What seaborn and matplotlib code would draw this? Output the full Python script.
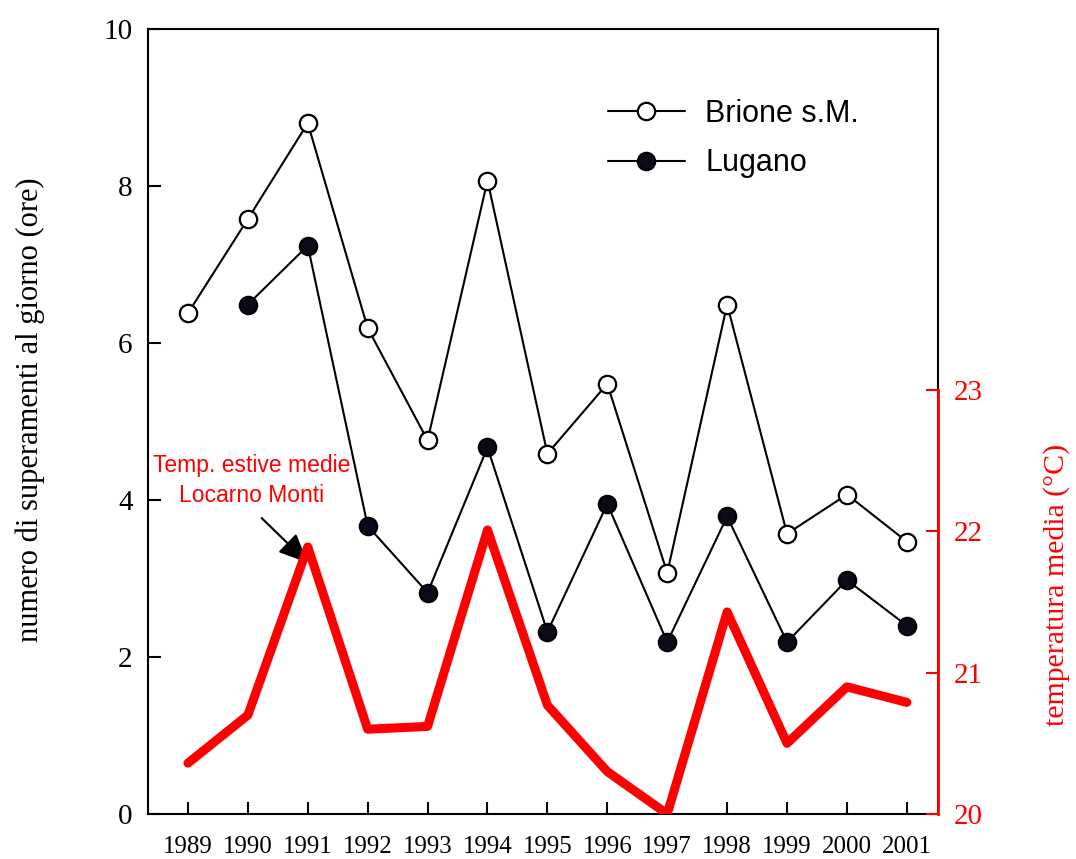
import matplotlib
matplotlib.use("Agg")
import matplotlib.pyplot as plt
import seaborn as sns
import pandas as pd
from matplotlib.lines import Line2D

years = list(range(1989, 2002))
brione = [6.38, 7.58, 8.80, 6.19, 4.76, 8.07, 4.59, 5.48, 3.07, 6.49, 3.57, 4.07, 3.47]
lugano_years = list(range(1990, 2002))
lugano = [6.49, 7.24, 3.67, 2.82, 4.67, 2.32, 3.95, 2.19, 3.79, 2.19, 2.98, 2.40]
temp = [20.36, 20.70, 21.89, 20.60, 20.62, 22.01, 20.77, 20.30, 20.00, 21.43, 20.50, 20.90, 20.79]

yticks_left = [0, 2, 4, 6, 8, 10]
yticks_right = [20, 21, 22, 23]

df_b = pd.DataFrame({"anno": years, "ore": brione})
df_l = pd.DataFrame({"anno": lugano_years, "ore": lugano})
df_t = pd.DataFrame({"anno": years, "temp": temp})

sns.set_theme(style="white")
serif = ["Liberation Serif", "DejaVu Serif"]
sans = ["Liberation Sans", "DejaVu Sans"]
plt.rcParams["font.family"] = serif
plt.rcParams.update({
    "text.color": "black", "axes.labelcolor": "black",
    "xtick.color": "black", "ytick.color": "black",
    "xtick.direction": "in", "ytick.direction": "in",
})

fig = plt.figure(figsize=(10.76, 8.59), dpi=100)
ax = fig.add_axes([148/1076, 1-814/859, 790/1076, 785/859])
ax2 = ax.twinx()

sns.lineplot(data=df_b, x="anno", y="ore", ax=ax, color="black", lw=1.5,
             marker="o", markersize=12.5, markerfacecolor="white",
             markeredgecolor="black", markeredgewidth=1.6, zorder=3)
sns.lineplot(data=df_l, x="anno", y="ore", ax=ax, color="black", lw=1.5,
             marker="o", markersize=12.5, markerfacecolor="#0a0a1a",
             markeredgecolor="black", markeredgewidth=1.6, zorder=3)
sns.lineplot(data=df_t, x="anno", y="temp", ax=ax2, color="#ff0000", lw=6.5,
             solid_capstyle="round", solid_joinstyle="round", zorder=2)

ax.set_xlim(1988.333, 2001.52)
ax.set_ylim(0, 10)
ax2.set_ylim(20, 20 + 785/141.3)

ax.set_xticks(years)
ax.set_xticklabels([str(y) for y in years], fontsize=18)
ax.set_yticks(yticks_left)
ax.set_yticklabels([str(v) for v in yticks_left], fontsize=21)
ax2.set_yticks(yticks_right)
ax2.set_yticklabels([str(v) for v in yticks_right], fontsize=21, color="#ff0000")

ax.xaxis.set_tick_params(which="both", direction="in", length=9, width=1.5, pad=16,
                         bottom=True, top=False, colors="black")
ax.yaxis.set_tick_params(which="both", direction="in", length=9, width=1.5, pad=11,
                         left=True, right=False, colors="black")
ax2.yaxis.set_tick_params(which="both", direction="in", length=9, width=1.5, pad=11,
                          right=True, left=False, colors="#ff0000")

for s in ax.spines.values():
    s.set_visible(True)
    s.set_color("black")
    s.set_linewidth(1.5)
for k in ["top", "left", "bottom"]:
    ax2.spines[k].set_visible(False)
ax2.spines["right"].set_color("#ff0000")
ax2.spines["right"].set_linewidth(2)
ax2.spines["right"].set_bounds(20, 23)

ax.set_xlabel("")
ax.set_ylabel("numero di superamenti al giorno (ore)", fontsize=22)
ax.yaxis.set_label_coords(-0.130, 0.515)
ax2.set_ylabel("temperatura media (°C)", fontsize=21.5, color="#ff0000")
ax2.yaxis.set_label_coords(1.133, 0.292)

handles = [
    Line2D([0], [0], color="black", lw=1.5, marker="o", markersize=12.5,
           markerfacecolor="white", markeredgecolor="black", markeredgewidth=1.6),
    Line2D([0], [0], color="black", lw=1.5, marker="o", markersize=12.5,
           markerfacecolor="#0a0a1a", markeredgecolor="black", markeredgewidth=1.6),
]
leg = ax.legend(handles, ["Brione s.M.", "Lugano"], loc="upper left",
                bbox_to_anchor=(580/1076, 1-71/859), bbox_transform=fig.transFigure,
                frameon=False, handlelength=2.55, handletextpad=0.65, labelspacing=0.65,
                prop={"family": sans, "size": 22})
for t in leg.get_texts():
    t.set_color("black")

ax.text(1990.07, 4.25, "Temp. estive medie\nLocarno Monti", color="#ff0000",
        fontsize=16.5, ha="center", va="center", family=sans, linespacing=1.35)
ax.annotate("", xy=(1991.0, 3.2), xytext=(1990.23, 3.77),
            arrowprops=dict(arrowstyle="-|>,head_width=0.4,head_length=0.9",
                            mutation_scale=20, color="black", lw=1.5,
                            shrinkA=0, shrinkB=0))

fig.savefig("out.png", dpi=100)
